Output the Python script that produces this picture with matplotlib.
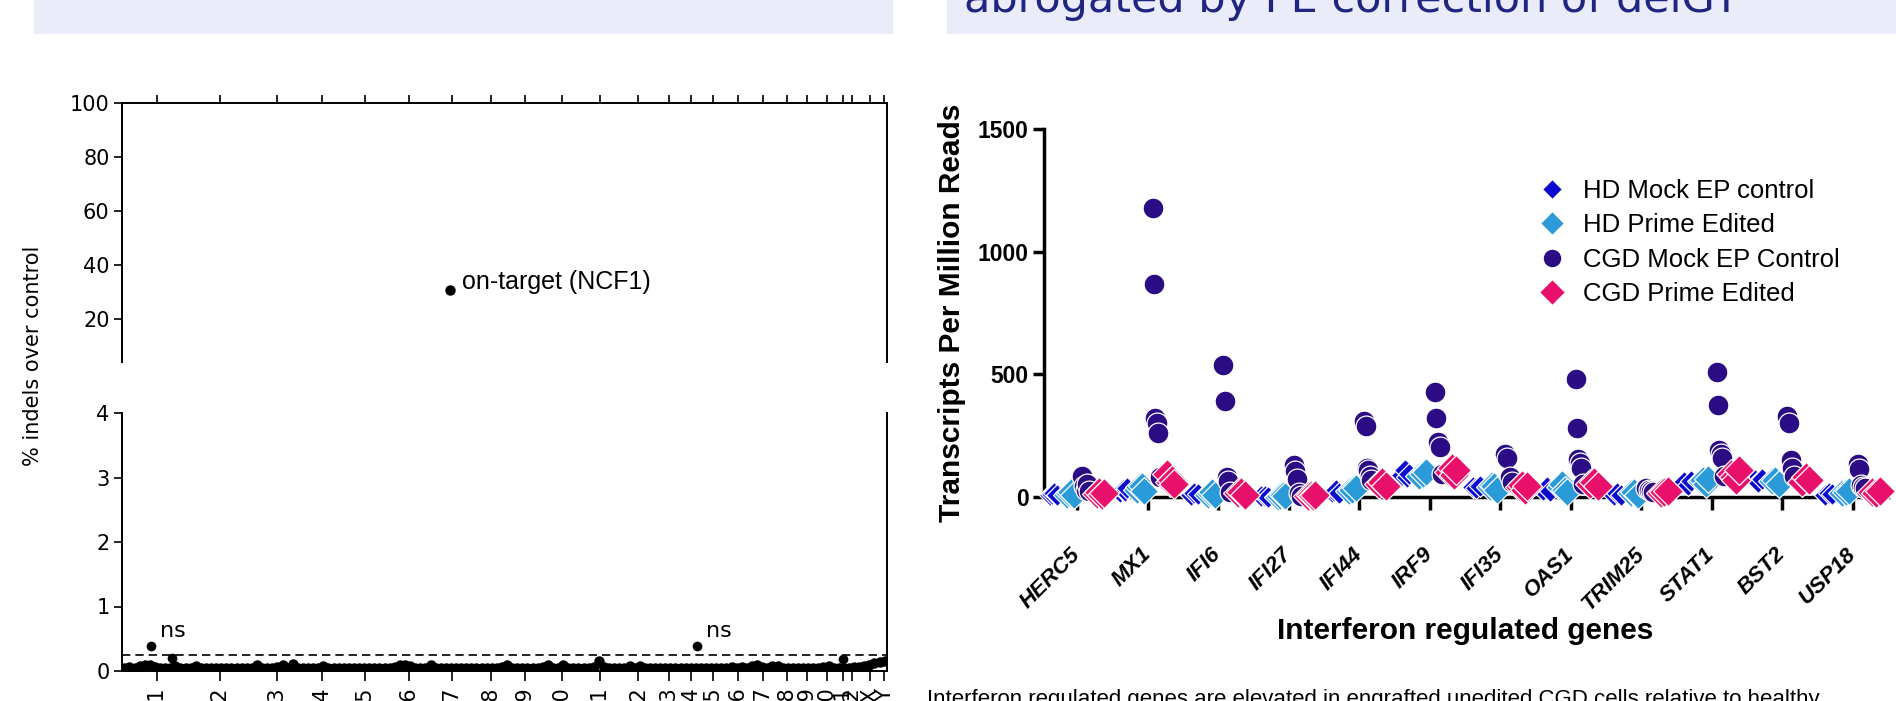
import matplotlib
matplotlib.use('Agg')
import matplotlib.pyplot as plt
from matplotlib.patches import Rectangle
from matplotlib.font_manager import FontProperties
import numpy as np

W, H = 1896, 701

#------left panel: off-target indels------#
chrom_names = ['chr1', 'chr2', 'chr3', 'chr4', 'chr5', 'chr6', 'chr7', 'chr8',
               'chr9', 'chr10', 'chr11', 'chr12', 'chr13', 'chr14', 'chr15',
               'chr16', 'chr17', 'chr18', 'chr19', 'chr20', 'chr21', 'chr22',
               'chrX', 'chrY']
chrom_pos = [4.6, 12.8, 20.3, 26.1, 31.8, 37.5, 43.1, 48.2, 52.7, 57.5, 62.5, 67.5,
             71.5, 74.4, 77.3, 80.5, 83.8, 86.9, 89.5, 92.2, 94.2, 95.4, 97.8, 99.6]

# background sites, in genome order
bg_indels = [0.05, 0.06, 0.05, 0.07, 0.09, 0.09, 0.06, 0.04, 0.05, 0.04,
             0.07, 0.04, 0.05, 0.05, 0.08, 0.05, 0.04, 0.05, 0.04, 0.05,
             0.04, 0.05, 0.04, 0.05, 0.04, 0.05, 0.09, 0.05, 0.04, 0.05,
             0.06, 0.10, 0.05, 0.11, 0.05, 0.04, 0.05, 0.04, 0.05, 0.07,
             0.04, 0.05, 0.04, 0.05, 0.04, 0.05, 0.04, 0.05, 0.04, 0.05,
             0.04, 0.05, 0.05, 0.06, 0.09, 0.10, 0.08, 0.05, 0.04, 0.05,
             0.10, 0.05, 0.04, 0.05, 0.04, 0.05, 0.04, 0.05, 0.04, 0.05,
             0.04, 0.05, 0.04, 0.05, 0.06, 0.10, 0.05, 0.04, 0.05, 0.04,
             0.05, 0.04, 0.06, 0.09, 0.05, 0.04, 0.09, 0.05, 0.04, 0.05,
             0.04, 0.05, 0.06, 0.15, 0.06, 0.04, 0.05, 0.04, 0.05, 0.07,
             0.05, 0.08, 0.05, 0.04, 0.05, 0.04, 0.05, 0.04, 0.05, 0.04,
             0.05, 0.04, 0.05, 0.04, 0.05, 0.04, 0.05, 0.04, 0.05, 0.06,
             0.05, 0.06, 0.05, 0.07, 0.10, 0.06, 0.05, 0.08, 0.08, 0.05,
             0.04, 0.05, 0.04, 0.05, 0.04, 0.05, 0.05, 0.06, 0.07, 0.05,
             0.04, 0.05, 0.05, 0.06, 0.06, 0.08, 0.10, 0.12, 0.14, 0.15]
hit_pos = [3.8, 6.5, 75.2, 94.2]
hit_indels = [0.39, 0.20, 0.39, 0.18]
ns_hits = [0, 2]
ontarget_pos = 42.9
ontarget_indel = 30.6
cutoff = 0.25

#------right panel: interferon genes------#
genes = ['HERC5', 'MX1', 'IFI6', 'IFI27', 'IFI44', 'IRF9', 'IFI35', 'OAS1',
         'TRIM25', 'STAT1', 'BST2', 'USP18']
hd_mock = [[8, 12, 15, 10], [20, 30, 25, 35], [10, 15, 12], [3, 5, 2],
           [20, 25, 30, 15], [90, 110, 80, 95], [40, 35, 45], [30, 40, 25],
           [10, 15, 8], [60, 50, 65], [70, 60, 75], [10, 15, 12]]
hd_pe = [[10, 15, 20, 8], [30, 40, 45, 25], [10, 15, 20, 8], [2, 5, 8, 3],
         [25, 30, 35], [85, 95, 100], [40, 50, 45, 30], [40, 55, 30, 20],
         [15, 20, 8], [65, 70, 55, 75], [65, 70, 55], [15, 20, 25]]
cgd_mock = [[85, 45, 30, 55, 25], [1180, 870, 320, 300, 260, 80],
            [540, 390, 80, 65, 20], [130, 105, 75, 15, 3],
            [310, 290, 120, 110, 85, 70], [430, 320, 225, 205, 95],
            [175, 160, 80, 60], [480, 280, 155, 140, 120, 55], [35, 30, 25, 20],
            [510, 375, 190, 175, 160, 85], [330, 300, 150, 120, 85],
            [135, 115, 50, 40, 35]]
cgd_pe = [[12, 20, 8, 15], [95, 60, 70, 55], [15, 20, 10], [5, 8, 3, 10],
          [55, 60, 45], [100, 120, 90, 110], [40, 50, 30, 45], [55, 60, 45],
          [15, 20, 25], [95, 80, 70, 110], [60, 80, 70], [20, 15, 25]]
series_names = ['HD Mock EP control', 'HD Prime Edited', 'CGD Mock EP Control',
                'CGD Prime Edited']

plt.rcParams['font.family'] = ['DejaVu Sans']
fig = plt.figure(figsize=(W / 100, H / 100), dpi=100)

# header bands
band = '#eaecfa'
fig.patches.append(Rectangle((34 / W, 1 - 33 / H), 858 / W, 33 / H,
                             transform=fig.transFigure, color=band, zorder=0))
fig.patches.append(Rectangle((947 / W, 1 - 33 / H), 949 / W, 33 / H,
                             transform=fig.transFigure, color=band, zorder=0))
fig.text(964 / W, 1 - 12 / H, 'abrogated by PE correction of delGT',
         fontsize=31, color='#1f2581', va='baseline', ha='left')

#------left chart (broken axis)------#
ax_top = fig.add_axes([122 / W, 1 - 362 / H, 765 / W, 259.3 / H])
ax_bot = fig.add_axes([122 / W, 1 - 671 / H, 765 / W, 258 / H])
for ax in (ax_top, ax_bot):
    ax.set_xlim(0, 100)
    ax.set_xticks(chrom_pos)
    for s in ax.spines.values():
        s.set_linewidth(1.4)
    ax.tick_params(labelsize=15, length=6, width=1.2, pad=3)

ax_top.set_ylim(4, 100)
ax_top.set_yticks([20, 40, 60, 80, 100])
ax_top.spines['bottom'].set_visible(False)
ax_top.xaxis.tick_top()
ax_top.set_xticklabels([])
ax_top.plot([ontarget_pos], [ontarget_indel], 'o', color='black', ms=6.5)
ax_top.text(ontarget_pos + 1.6, ontarget_indel + 3, 'on-target (NCF1)',
            va='center', ha='left', fontsize=18, family='Liberation Sans')

ax_bot.set_ylim(0, 4)
ax_bot.set_yticks([0, 1, 2, 3, 4])
ax_bot.spines['top'].set_visible(False)
ax_bot.set_xticklabels(chrom_names, rotation=90, va='top')
ax_bot.tick_params(axis='x', length=7, pad=4)
bg_x = np.linspace(0.3, 99.7, len(bg_indels))
ax_bot.plot(bg_x, bg_indels, 'o', color='black', ms=7.5, mew=0)
ax_bot.plot(hit_pos, hit_indels, 'o', color='black', ms=7, mew=0)
ax_bot.axhline(cutoff, color='black', lw=1.2, ls=(0, (5, 3)))
for i in ns_hits:
    ax_bot.text(hit_pos[i] + 1.2, hit_indels[i] + 0.07, 'ns', fontsize=16,
                ha='left', va='bottom')

fig.text(33 / W, 1 - 356 / H, '% indels over control', rotation=90,
         ha='center', va='center', fontsize=15)

#------right chart------#
arial = 'Liberation Sans'
ax = fig.add_axes([1044 / W, 1 - 497 / H, 844 / W, 368 / H])
ax.set_xlim(-0.47, 11.5)
ax.set_ylim(0, 1500)
ax.spines['top'].set_visible(False)
ax.spines['right'].set_visible(False)
ax.spines['left'].set_linewidth(2.5)
ax.spines['bottom'].set_linewidth(2.5)

styles = [  # color, marker, size, offset
    ('#0b0bd0', 'D', 11, -0.34),
    ('#2b9ad8', 'D', 14, -0.10),
    ('#2b0c85', 'o', 15, 0.12),
    ('#e8106a', 'D', 15, 0.33),
]
for k, data in enumerate([hd_mock, hd_pe, cgd_mock, cgd_pe]):
    color, marker, size, off = styles[k]
    for g, vals in enumerate(data):
        xs = g + off + np.linspace(-0.05, 0.05, len(vals))
        ax.plot(xs, vals, marker, color=color, ms=size, mec='white', mew=0.9,
                ls='none', clip_on=False, zorder=3 + k,
                label=series_names[k] if g == 0 else None)

ax.set_yticks([0, 500, 1000, 1500])
ax.set_yticklabels(['0', '500', '1000', '1500'], fontsize=16.5,
                   fontweight='bold', family=arial)
ax.tick_params(axis='y', length=8, width=2.5, pad=3)
ax.set_xticks(range(len(genes)))
ax.set_xticklabels(genes, rotation=45, ha='right', va='center',
                   rotation_mode='anchor', fontsize=16, fontweight='bold',
                   fontstyle='italic', family=arial)
ax.tick_params(axis='x', length=9, width=2.5, pad=30)

ax.legend(loc='upper left', bbox_to_anchor=(1539 / W, 1 - 179 / H),
          bbox_transform=fig.transFigure, frameon=False,
          prop=FontProperties(family=arial, size=18.5), handlelength=1.0,
          handletextpad=0.7, labelspacing=0.4, borderpad=0, borderaxespad=0,
          numpoints=1, markerscale=0.9)

fig.text(952 / W, 1 - 313 / H, 'Transcripts Per Million Reads', rotation=90,
         ha='center', va='center', fontsize=21.5, fontweight='bold', family=arial)
fig.text(1465 / W, 1 - 631 / H, 'Interferon regulated genes', ha='center',
         va='center', fontsize=21.5, fontweight='bold', family=arial)
fig.text(927 / W, 1 - 705 / H,
         'Interferon regulated genes are elevated in engrafted unedited CGD '
         'cells relative to healthy', ha='left', va='baseline', fontsize=16,
         family=arial)

fig.savefig('out.png', dpi=100)
